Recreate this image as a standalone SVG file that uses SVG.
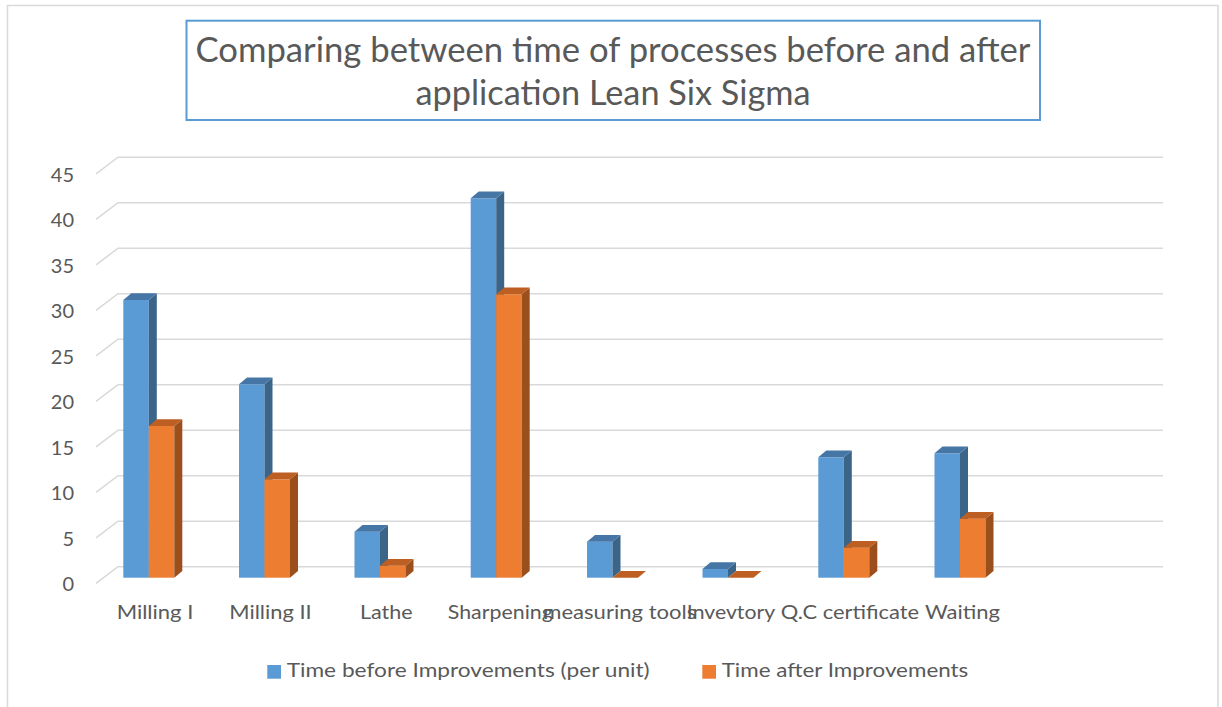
<svg xmlns="http://www.w3.org/2000/svg" width="1222" height="707" viewBox="0 0 1222 707">
<style>
text{font-family:Lato,"Open Sans","Liberation Sans",sans-serif;fill:#595959}
.t{font-size:35px;text-anchor:middle}
.y{font-size:20px;text-anchor:end}
.x{font-size:20px;text-anchor:middle}
.l{font-size:20px}
.grid{fill:none;stroke:#D9D9D9;stroke-width:1.6}
.bf{fill:#5B9BD5}.bs{fill:#3B6489}.bt{fill:#4676A6}
.of{fill:#ED7D31}.os{fill:#9B4F1D}.ot{fill:#BD5F22}
</style>
<rect x="0" y="0" width="1222" height="707" fill="#FFFFFF"/>
<rect id="chart-border" x="7.5" y="5.5" width="1210.5" height="710" fill="none" stroke="#D9D9D9" stroke-width="1.5"/>
<g id="title">
<rect x="186.5" y="20.7" width="853.5" height="99.3" fill="#FFFFFF" stroke="#5B9BD5" stroke-width="2"/>
<text class="t" x="613" y="61.7" textLength="835" lengthAdjust="spacingAndGlyphs">Comparing between time of processes before and after</text>
<text class="t" x="613" y="104.7" textLength="395" lengthAdjust="spacingAndGlyphs">application Lean Six Sigma</text>
</g>
<g id="gridlines">
<path class="grid" d="M96,583.3L118,566.7L1163,566.7"/>
<path class="grid" d="M96,537.8L118,521.2L1163,521.2"/>
<path class="grid" d="M96,492.3L118,475.7L1163,475.7"/>
<path class="grid" d="M96,446.8L118,430.2L1163,430.2"/>
<path class="grid" d="M96,401.3L118,384.7L1163,384.7"/>
<path class="grid" d="M96,355.8L118,339.2L1163,339.2"/>
<path class="grid" d="M96,310.3L118,293.7L1163,293.7"/>
<path class="grid" d="M96,264.8L118,248.2L1163,248.2"/>
<path class="grid" d="M96,219.3L118,202.7L1163,202.7"/>
<path class="grid" d="M96,173.8L118,157.2L1163,157.2"/>
</g>
<g id="y-axis">
<text class="y" x="74" y="591">0</text>
<text class="y" x="74" y="545.5">5</text>
<text class="y" x="74" y="500">10</text>
<text class="y" x="74" y="454.5">15</text>
<text class="y" x="74" y="409">20</text>
<text class="y" x="74" y="363.5">25</text>
<text class="y" x="74" y="318">30</text>
<text class="y" x="74" y="272.5">35</text>
<text class="y" x="74" y="227">40</text>
<text class="y" x="74" y="181.5">45</text>
</g>
<g id="bar-milling-1">
<rect class="bf" x="123.3" y="300" width="25.5" height="277.7"/>
<polygon class="bs" points="148.8,300 156.8,293.3 156.8,571 148.8,577.7"/>
<polygon class="bt" points="123.3,300 131.3,293.3 156.8,293.3 148.8,300"/>
<rect class="of" x="148.8" y="426" width="25.5" height="151.7"/>
<polygon class="os" points="174.3,426 182.3,419.3 182.3,571 174.3,577.7"/>
<polygon class="ot" points="148.8,426 156.8,419.3 182.3,419.3 174.3,426"/>
</g>
<g id="bar-milling-2">
<rect class="bf" x="239" y="384.3" width="25.5" height="193.4"/>
<polygon class="bs" points="264.5,384.3 272.5,377.6 272.5,571 264.5,577.7"/>
<polygon class="bt" points="239,384.3 247,377.6 272.5,377.6 264.5,384.3"/>
<rect class="of" x="264.5" y="479.3" width="25.5" height="98.4"/>
<polygon class="os" points="290,479.3 298,472.6 298,571 290,577.7"/>
<polygon class="ot" points="264.5,479.3 272.5,472.6 298,472.6 290,479.3"/>
</g>
<g id="bar-lathe">
<rect class="bf" x="354.5" y="531.7" width="25.5" height="46"/>
<polygon class="bs" points="380,531.7 388,525 388,571 380,577.7"/>
<polygon class="bt" points="354.5,531.7 362.5,525 388,525 380,531.7"/>
<rect class="of" x="380" y="565.7" width="25.5" height="12"/>
<polygon class="os" points="405.5,565.7 413.5,559 413.5,571 405.5,577.7"/>
<polygon class="ot" points="380,565.7 388,559 413.5,559 405.5,565.7"/>
</g>
<g id="bar-sharpening">
<rect class="bf" x="470.7" y="198.3" width="25.5" height="379.4"/>
<polygon class="bs" points="496.2,198.3 504.2,191.6 504.2,571 496.2,577.7"/>
<polygon class="bt" points="470.7,198.3 478.7,191.6 504.2,191.6 496.2,198.3"/>
<rect class="of" x="496.2" y="294.3" width="25.5" height="283.4"/>
<polygon class="os" points="521.7,294.3 529.7,287.6 529.7,571 521.7,577.7"/>
<polygon class="ot" points="496.2,294.3 504.2,287.6 529.7,287.6 521.7,294.3"/>
</g>
<g id="bar-measuring-tools">
<rect class="bf" x="587" y="541.7" width="25.5" height="36"/>
<polygon class="bs" points="612.5,541.7 620.5,535 620.5,571 612.5,577.7"/>
<polygon class="bt" points="587,541.7 595,535 620.5,535 612.5,541.7"/>
<polygon class="ot" points="612.5,577.7 620.5,571 646,571 638,577.7"/>
</g>
<g id="bar-invevtory">
<rect class="bf" x="702.5" y="569" width="25.5" height="8.7"/>
<polygon class="bs" points="728,569 736,562.3 736,571 728,577.7"/>
<polygon class="bt" points="702.5,569 710.5,562.3 736,562.3 728,569"/>
<polygon class="ot" points="728,577.7 736,571 761.5,571 753.5,577.7"/>
</g>
<g id="bar-qc-certificate">
<rect class="bf" x="818.3" y="457.3" width="25.5" height="120.4"/>
<polygon class="bs" points="843.8,457.3 851.8,450.6 851.8,571 843.8,577.7"/>
<polygon class="bt" points="818.3,457.3 826.3,450.6 851.8,450.6 843.8,457.3"/>
<rect class="of" x="843.8" y="547.7" width="25.5" height="30"/>
<polygon class="os" points="869.3,547.7 877.3,541 877.3,571 869.3,577.7"/>
<polygon class="ot" points="843.8,547.7 851.8,541 877.3,541 869.3,547.7"/>
</g>
<g id="bar-waiting">
<rect class="bf" x="934.5" y="453.3" width="25.5" height="124.4"/>
<polygon class="bs" points="960,453.3 968,446.6 968,571 960,577.7"/>
<polygon class="bt" points="934.5,453.3 942.5,446.6 968,446.6 960,453.3"/>
<rect class="of" x="960" y="518.7" width="25.5" height="59"/>
<polygon class="os" points="985.5,518.7 993.5,512 993.5,571 985.5,577.7"/>
<polygon class="ot" points="960,518.7 968,512 993.5,512 985.5,518.7"/>
</g>
<g id="x-axis">
<text class="x" x="155" y="619.3" textLength="76.7" lengthAdjust="spacingAndGlyphs">Milling I</text>
<text class="x" x="270.5" y="619.3" textLength="82.4" lengthAdjust="spacingAndGlyphs">Milling II</text>
<text class="x" x="386.3" y="619.3" textLength="52.7" lengthAdjust="spacingAndGlyphs">Lathe</text>
<text class="x" x="500.3" y="619.3" textLength="105" lengthAdjust="spacingAndGlyphs">Sharpening</text>
<text class="x" x="619.8" y="619.3" textLength="153" lengthAdjust="spacingAndGlyphs">measuring tools</text>
<text class="x" x="731" y="619.3" textLength="88.3" lengthAdjust="spacingAndGlyphs">Invevtory</text>
<text class="x" x="849.9" y="619.3" textLength="138.3" lengthAdjust="spacingAndGlyphs">Q.C certificate</text>
<text class="x" x="962.5" y="619.3" textLength="75" lengthAdjust="spacingAndGlyphs">Waiting</text>
</g>
<g id="legend">
<rect class="bf" x="267.3" y="665" width="13.7" height="13.7"/>
<text class="l" x="286.7" y="676.7" textLength="363" lengthAdjust="spacingAndGlyphs">Time before Improvements (per unit)</text>
<rect class="of" x="702.3" y="665" width="13.7" height="13.7"/>
<text class="l" x="721.7" y="676.7" textLength="246.6" lengthAdjust="spacingAndGlyphs">Time after Improvements</text>
</g>
</svg>
